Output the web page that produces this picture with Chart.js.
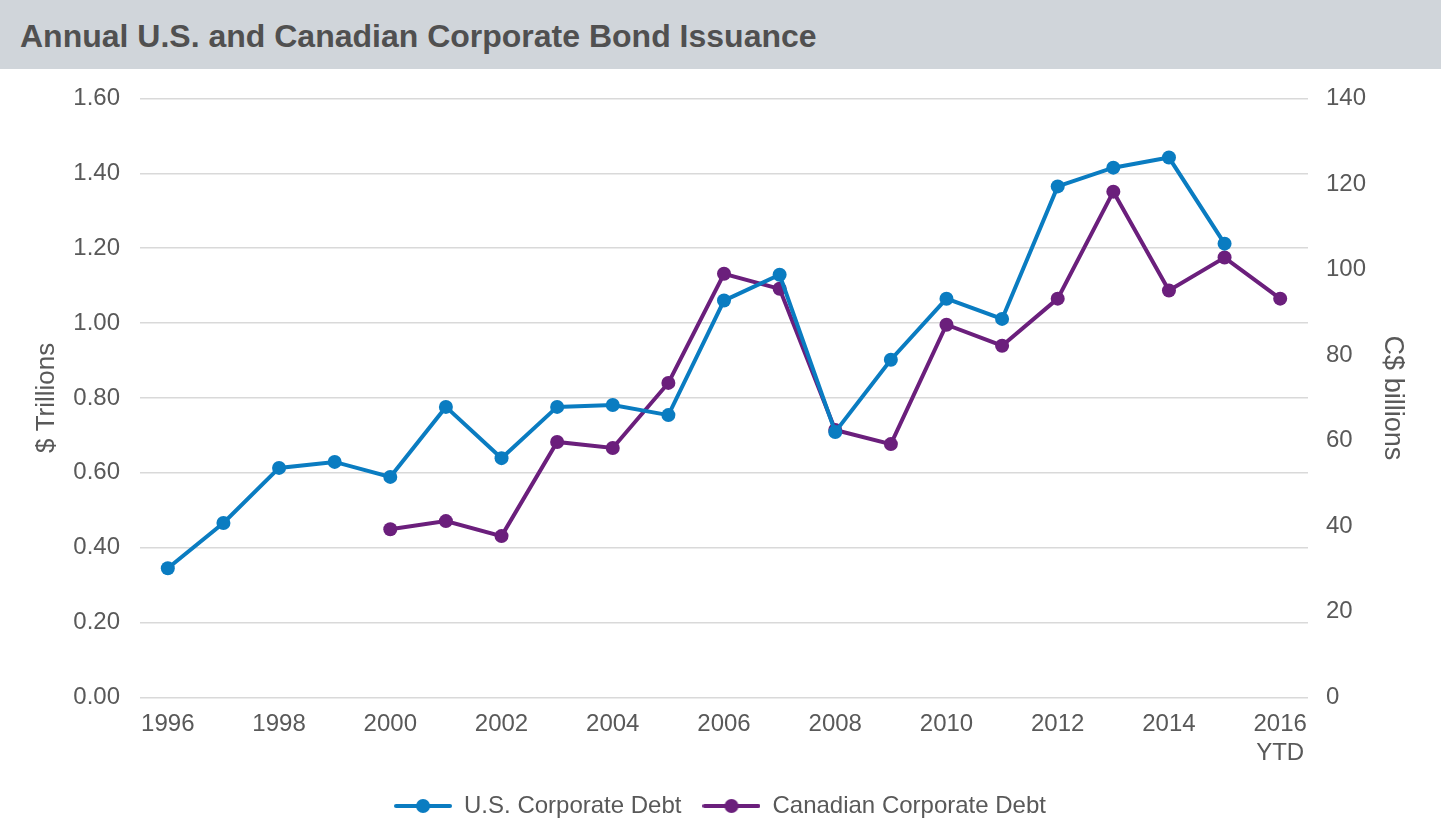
<!DOCTYPE html>
<html>
<head>
<meta charset="utf-8">
<script src="https://cdn.jsdelivr.net/npm/chart.js@4/dist/chart.umd.min.js"></script>
<style>
  html, body { margin: 0; padding: 0; background: #fff; overflow: hidden; }
  #banner {
    height: 69px; background: #d0d5da; color: #505050;
    font: bold 32px "Liberation Sans", Arial, sans-serif;
    line-height: 72px; padding-left: 20px; box-sizing: border-box;
  }
  #wrap { position: relative; width: 1441px; height: 764px; margin-top: -5px; }
</style>
</head>
<body>
<div id="banner">Annual U.S. and Canadian Corporate Bond Issuance</div>
<div id="wrap"><canvas id="chart"></canvas></div>
<script>
// --- Datos ---
const years = ['1996', '1997', '1998', '1999', '2000', '2001', '2002', '2003', '2004', '2005',
  '2006', '2007', '2008', '2009', '2010', '2011', '2012', '2013', '2014', '2015', ['2016', 'YTD']];
// $ billones (eje izquierdo)
const usDebt = [0.345, 0.466, 0.613, 0.629, 0.589, 0.776, 0.639, 0.776, 0.781, 0.754,
  1.060, 1.129, 0.709, 0.902, 1.065, 1.011, 1.365, 1.415, 1.442, 1.212, null];
// C$ miles de millones (eje derecho)
const cadDebt = [null, null, null, null, 39.3, 41.2, 37.7, 59.7, 58.3, 73.5,
  99.0, 95.5, 62.5, 59.2, 87.1, 82.2, 93.2, 118.2, 95.1, 102.8, 93.2];

const US_COLOR = '#0a7cc1';
const CAD_COLOR = '#6b1f7c';
const TEXT = '#595959';
const FONT = "'Liberation Sans', Arial, sans-serif";

// Icono de leyenda: línea con punto
function legendIcon(color) {
  const c = document.createElement('canvas');
  c.width = 58; c.height = 16;
  const g = c.getContext('2d');
  g.strokeStyle = color; g.lineWidth = 4; g.lineCap = 'round';
  g.beginPath(); g.moveTo(2, 8); g.lineTo(56, 8); g.stroke();
  g.fillStyle = color;
  g.beginPath(); g.arc(29, 8, 7, 0, Math.PI * 2); g.fill();
  return c;
}

new Chart(document.getElementById('chart'), {
  type: 'line',
  data: {
    labels: years,
    datasets: [{
      label: 'U.S. Corporate Debt',
      data: usDebt,
      yAxisID: 'y',
      borderColor: US_COLOR,
      backgroundColor: US_COLOR,
      borderWidth: 4,
      pointRadius: 7,
      pointBorderWidth: 0,
      pointStyle: 'circle'
    }, {
      label: 'Canadian Corporate Debt',
      data: cadDebt,
      yAxisID: 'y1',
      borderColor: CAD_COLOR,
      backgroundColor: CAD_COLOR,
      borderWidth: 4,
      pointRadius: 7,
      pointBorderWidth: 0,
      pointStyle: 'circle'
    }]
  },
  options: {
    responsive: true,
    maintainAspectRatio: false,
    animation: false,
    layout: { padding: { top: 15, left: 27, right: 28, bottom: 0 } },
    plugins: {
      legend: {
        position: 'bottom',
        labels: {
          usePointStyle: true,
          pointStyleWidth: 58,
          boxHeight: 16,
          color: TEXT,
          font: { family: FONT, size: 24 },
          padding: 21,
          generateLabels: (chart) => chart.data.datasets.map((ds, i) => ({
            text: ds.label,
            pointStyle: legendIcon(ds.borderColor),
            fillStyle: ds.borderColor,
            strokeStyle: ds.borderColor,
            lineWidth: 0,
            fontColor: TEXT,
            datasetIndex: i
          }))
        }
      },
      tooltip: { enabled: false }
    },
    scales: {
      x: {
        offset: true,
        grid: { display: false },
        border: { display: false },
        ticks: {
          color: TEXT,
          padding: 5,
          font: { family: FONT, size: 24 },
          autoSkip: false,
          maxRotation: 0,
          callback: function (val, idx) {
            return idx % 2 === 0 ? this.getLabelForValue(val) : '';
          }
        }
      },
      y: {
        position: 'left',
        min: 0, max: 1.6,
        afterFit: (scale) => { scale.width = 113; },
        ticks: {
          stepSize: 0.2,
          color: TEXT,
          padding: 20,
          font: { family: FONT, size: 24 },
          callback: (v) => v.toFixed(2)
        },
        grid: { color: '#d9d9d9', lineWidth: 1.5, drawTicks: false },
        border: { display: false },
        title: { display: true, text: '$ Trillions', color: TEXT, font: { family: FONT, size: 26 } }
      },
      y1: {
        position: 'right',
        min: 0, max: 140,
        afterFit: (scale) => { scale.width = 105; },
        ticks: {
          stepSize: 20,
          color: TEXT,
          padding: 18,
          font: { family: FONT, size: 24 }
        },
        grid: { display: false, drawTicks: false },
        border: { display: false },
        title: { display: true, text: 'C$ billions', color: TEXT, font: { family: FONT, size: 27 } }
      }
    }
  }
});
</script>
</body>
</html>
